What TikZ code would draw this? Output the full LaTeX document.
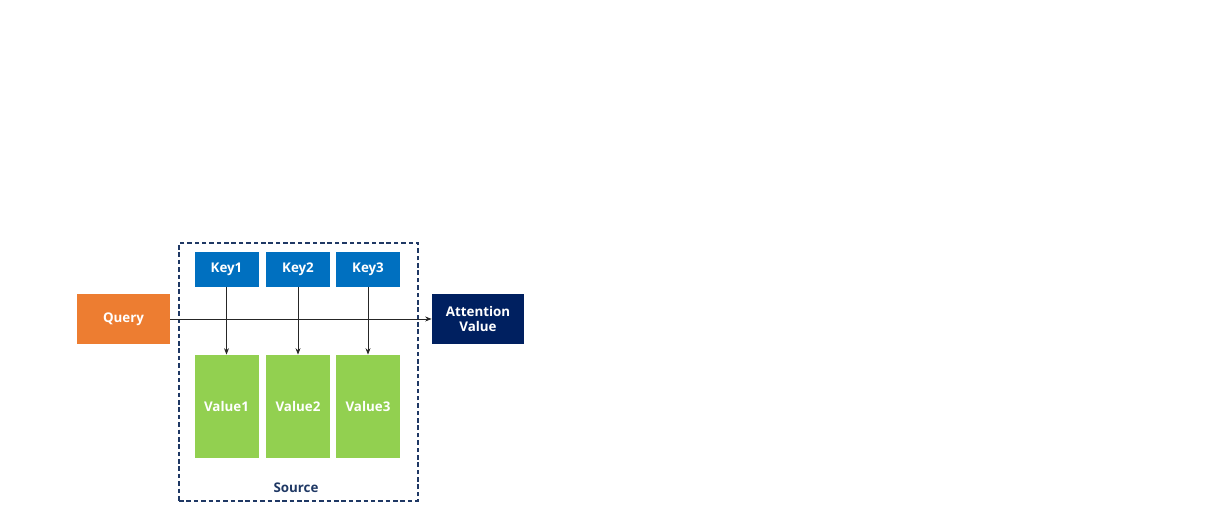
\documentclass[tikz,border=0pt]{standalone}
\usepackage{fontspec}
\setmainfont{Open Sans}
\usetikzlibrary{arrows.meta,positioning}
\definecolor{qorange}{HTML}{ED7D31}
\definecolor{kblue}{HTML}{0070C0}
\definecolor{vgreen}{HTML}{92D050}
\definecolor{anavy}{HTML}{002060}
\definecolor{srcline}{HTML}{1F3864}
\tikzset{
  blk/.style     ={rectangle,inner sep=0pt,text=white,font=\fontsize{7.6}{8.6}\selectfont\bfseries,
                   align=center},
  qry/.style     ={blk,fill=qorange,minimum width=1.86cm,minimum height=1.0cm},
  keyb/.style    ={blk,fill=kblue,minimum width=1.28cm,minimum height=0.70cm},
  valb/.style    ={blk,fill=vgreen,minimum width=1.28cm,minimum height=2.06cm},
  attn/.style    ={blk,fill=anavy,minimum width=1.84cm,minimum height=1.0cm},
  srcbox/.style  ={rectangle,draw=srcline,line width=0.6pt,
                   dash pattern=on 2.6pt off 1.6pt,minimum width=4.78cm,minimum height=5.16cm},
  ed/.style      ={-{Stealth[length=1.3mm,width=1.0mm]},draw=black!85,line width=0.5pt},
  ann/.style     ={font=\fontsize{7.6}{8.6}\selectfont\bfseries,text=srcline,inner sep=1pt},
}

\begin{document}
\begin{tikzpicture}[x=1cm, y=1cm]

\useasboundingbox (0,0) rectangle (24.12,10.22);

%% ---------------- source frame ----------------
\node[srcbox] (src) at (5.97,2.78) {};
\node[ann] (srclbl) at (5.92,0.46) {Source};

%% ---------------- blocks ----------------
\node[qry]  (q)  at (2.47,3.84) {Query};
\node[attn] (av) at (9.56,3.84) {Attention\\Value};

\node[keyb] (k1) at (4.53,4.83) {Key1};
\node[keyb] (k2) at (5.96,4.83) {Key2};
\node[keyb] (k3) at (7.36,4.83) {Key3};

\node[valb] (v1) at (4.53,2.09) {Value1};
\node[valb] (v2) at (5.96,2.09) {Value2};
\node[valb] (v3) at (7.36,2.09) {Value3};

%% ---------------- edges ----------------
\draw[ed] (q) -- (av);
\foreach \i in {1,2,3}{
  \draw[ed] (k\i) -- (v\i);
}

\end{tikzpicture}
\end{document}
